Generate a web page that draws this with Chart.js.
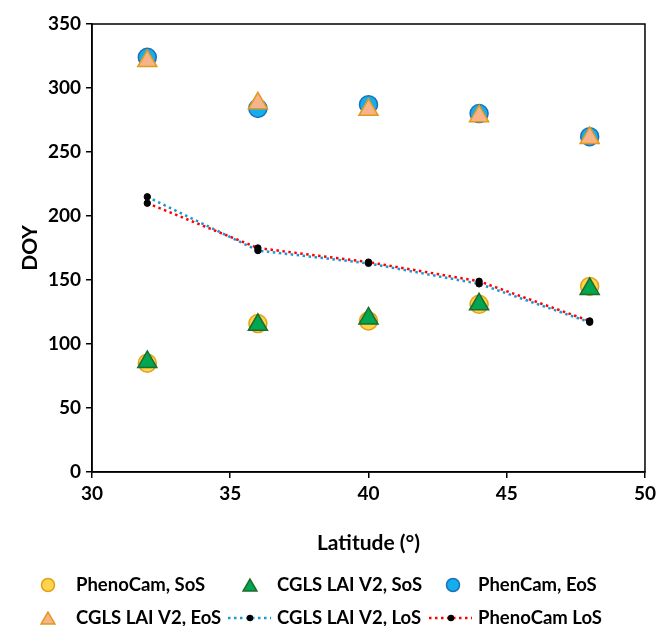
<!DOCTYPE html>
<html><head><meta charset="utf-8">
<script src="https://cdn.jsdelivr.net/npm/chart.js@4"></script>
<style>html,body{margin:0;padding:0;background:#fff}</style>
</head><body>
<canvas id="c" width="660" height="626"></canvas>
<script>
// ---- data ----
const latitudes = [32, 36, 40, 44, 48];
const phenoSoS  = [85, 116, 118, 131, 145];
const cglsSoS   = [86, 115, 120, 131, 143];
const phenoEoS  = [324, 284, 287, 280, 262];
const cglsEoS   = [321, 288, 283, 278, 261];
const cglsLoS   = [215, 173, 163, 147, 117];
const phenoLoS  = [210, 175, 164, 149, 118];
const xTicks = [30, 35, 40, 45, 50];
const yTicks = [0, 50, 100, 150, 200, 250, 300, 350];
const seriesLabels = ['PhenoCam, SoS', 'CGLS LAI V2, SoS', 'PhenCam, EoS', 'CGLS LAI V2, EoS', 'CGLS LAI V2, LoS', 'PhenoCam LoS'];

const FONT = 'Lato, "Open Sans", sans-serif';
const pts = arr => arr.map((v, i) => ({x: latitudes[i], y: v}));

const datasets = [
  {label: seriesLabels[0], data: pts(phenoSoS), showLine: false, pointStyle: 'circle', pointRadius: 9,
   backgroundColor: '#FFD34E', borderColor: '#E3A21A', pointBorderWidth: 1.5, order: 6, legendType: 'circle'},
  {label: seriesLabels[1], data: pts(cglsSoS), showLine: false, pointStyle: 'triangle', pointRadius: 11,
   backgroundColor: '#00A651', borderColor: '#1E6B2A', pointBorderWidth: 1.5, order: 5, legendType: 'triangle'},
  {label: seriesLabels[2], data: pts(phenoEoS), showLine: false, pointStyle: 'circle', pointRadius: 9,
   backgroundColor: '#14AEEC', borderColor: '#1F6FB8', pointBorderWidth: 1.5, order: 4, legendType: 'circle'},
  {label: seriesLabels[3], data: pts(cglsEoS), showLine: false, pointStyle: 'triangle', pointRadius: 11,
   backgroundColor: '#F7B48A', borderColor: '#E09A1E', pointBorderWidth: 1.5, order: 3, legendType: 'triangle'},
  {label: seriesLabels[4], data: pts(cglsLoS), showLine: true, borderColor: '#1C98D6', borderWidth: 2.5, borderDash: [2.5, 3.5],
   pointStyle: 'circle', pointRadius: 3.2, pointBackgroundColor: '#000', pointBorderColor: '#000', pointBorderWidth: 1,
   backgroundColor: '#000', order: 2, legendType: 'line', lineColor: '#1C98D6'},
  {label: seriesLabels[5], data: pts(phenoLoS), showLine: true, borderColor: '#FF0000', borderWidth: 2.5, borderDash: [2.5, 3.5],
   pointStyle: 'circle', pointRadius: 3.2, pointBackgroundColor: '#000', pointBorderColor: '#000', pointBorderWidth: 1,
   backgroundColor: '#000', order: 1, legendType: 'line', lineColor: '#FF0000'}
];

const framePlugin = {
  id: 'frame',
  afterDraw(chart) {
    const {ctx, chartArea: a} = chart;
    ctx.save();
    ctx.strokeStyle = '#000';
    ctx.lineWidth = 1.5;
    ctx.strokeRect(a.left, a.top, a.right - a.left, a.bottom - a.top);
    ctx.restore();
  }
};

function drawMarker(ctx, type, x, y, r, fill, stroke) {
  ctx.beginPath();
  if (type === 'circle') {
    ctx.arc(x, y, r, 0, Math.PI * 2);
  } else {
    ctx.moveTo(x, y - r);
    ctx.lineTo(x + r * Math.sqrt(3) / 2, y + r / 2);
    ctx.lineTo(x - r * Math.sqrt(3) / 2, y + r / 2);
    ctx.closePath();
  }
  ctx.fillStyle = fill; ctx.fill();
  ctx.strokeStyle = stroke; ctx.lineWidth = 1.5; ctx.stroke();
}

const legendPlugin = {
  id: 'customLegend',
  afterDraw(chart) {
    const ctx = chart.ctx;
    const colMarker = [48, 250, 453];
    const colText = [76, 277, 478];
    const rowY = [585, 618];
    ctx.save();
    ctx.font = 'bold 18.5px ' + FONT;
    ctx.textBaseline = 'middle';
    chart.data.datasets.forEach((ds, i) => {
      const row = Math.floor(i / 3), col = i % 3;
      const y = rowY[row];
      const mx = colMarker[col];
      if (ds.legendType === 'line') {
        ctx.save();
        ctx.strokeStyle = ds.lineColor; ctx.lineWidth = 2.5; ctx.setLineDash([2.5, 3.5]);
        ctx.beginPath(); ctx.moveTo(colText[col] - 49, y); ctx.lineTo(colText[col] - 6, y); ctx.stroke();
        ctx.restore();
        ctx.beginPath(); ctx.arc(colText[col] - 27, y, 3.2, 0, Math.PI * 2); ctx.fillStyle = '#000'; ctx.fill();
      } else if (ds.legendType === 'circle') {
        drawMarker(ctx, 'circle', mx, y, 6.5, ds.backgroundColor, ds.borderColor);
      } else {
        drawMarker(ctx, 'triangle', mx, y + 2, 8, ds.backgroundColor, ds.borderColor);
      }
      ctx.fillStyle = '#000';
      ctx.fillText(ds.label, colText[col], y);
    });
    ctx.restore();
  }
};

new Chart(document.getElementById('c'), {
  type: 'scatter',
  data: {datasets},
  options: {
    responsive: false,
    animation: false,
    devicePixelRatio: 1,
    layout: {padding: {left: 0, right: 12, top: 24, bottom: 64}},
    plugins: {legend: {display: false}, tooltip: {enabled: false}},
    scales: {
      x: {
        type: 'linear', min: 30, max: 50,
        afterBuildTicks: s => { s.ticks = xTicks.map(v => ({value: v})); },
        afterFit: s => { s.height = 90; },
        ticks: {color: '#000', font: {family: FONT, size: 19, weight: 'bold'}, padding: 4, maxRotation: 0},
        grid: {drawOnChartArea: false, drawTicks: true, tickLength: 6, color: '#000', lineWidth: 1.5},
        border: {display: true, color: '#000', width: 1.5},
        title: {display: true, text: 'Latitude (°)', color: '#000', font: {family: FONT, size: 21, weight: 'bold'}, padding: {top: 0, bottom: 6.5}}
      },
      y: {
        type: 'linear', min: 0, max: 350,
        afterBuildTicks: s => { s.ticks = yTicks.map(v => ({value: v})); },
        afterFit: s => { s.width = 92; },
        ticks: {color: '#000', font: {family: FONT, size: 19, weight: 'bold'}, padding: 5},
        grid: {drawOnChartArea: false, drawTicks: true, tickLength: 6, color: '#000', lineWidth: 1.5},
        border: {display: true, color: '#000', width: 1.5},
        title: {display: true, text: 'DOY', color: '#000', font: {family: FONT, size: 21, weight: 'bold'}, padding: {top: 17.4, bottom: 0}}
      }
    }
  },
  plugins: [framePlugin, legendPlugin]
});
</script>
</body></html>
